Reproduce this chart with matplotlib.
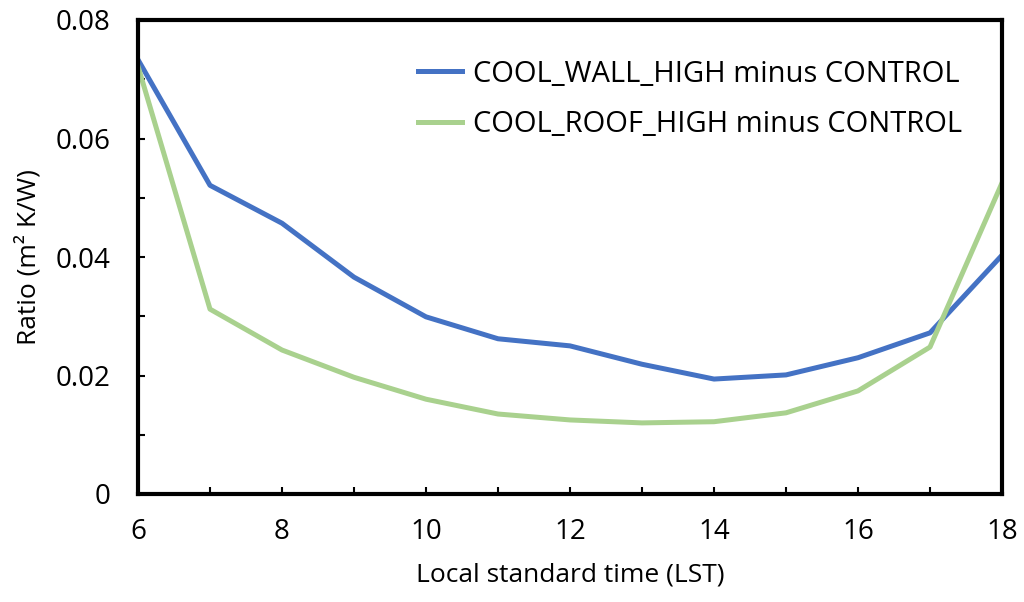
import numpy as np
import matplotlib.pyplot as plt

hours = [6, 7, 8, 9, 10, 11, 12, 13, 14, 15, 16, 17, 18]
wall_minus_control = [0.0733, 0.0521, 0.0457, 0.0366, 0.0299, 0.0262, 0.0250,
                      0.0219, 0.0194, 0.0201, 0.0230, 0.0272, 0.0403]
roof_minus_control = [0.0722, 0.0312, 0.0243, 0.0197, 0.0160, 0.0135, 0.0125,
                      0.0120, 0.0122, 0.0137, 0.0174, 0.0248, 0.0525]
labels = ['COOL_WALL_HIGH minus CONTROL', 'COOL_ROOF_HIGH minus CONTROL']

plt.rcParams['font.family'] = ['Open Sans', 'DejaVu Sans']

fig = plt.figure(figsize=(10.24, 6.02), dpi=100)
ax = fig.add_axes([138 / 1024, 1 - 494 / 602, (1002 - 138) / 1024, (494 - 20) / 602])

ax.plot(hours, wall_minus_control, color='#4472C4', lw=3.6, label=labels[0])
ax.plot(hours, roof_minus_control, color='#A9D18E', lw=3.6, label=labels[1])

ax.set_xlim(6, 18)
ax.set_ylim(0, 0.08)
ax.set_xticks(range(6, 19, 2))
ax.set_xticks(range(6, 19), minor=True)
ax.set_yticks(np.arange(0, 0.081, 0.02))
ax.set_yticklabels(['0', '0.02', '0.04', '0.06', '0.08'])
ax.set_yticks(np.arange(0, 0.081, 0.01), minor=True)
ax.tick_params(which='both', direction='in', width=1.5, length=5, labelsize=20)
ax.tick_params(axis='y', pad=20)
ax.tick_params(axis='x', pad=17)

for s in ax.spines.values():
    s.set_linewidth(3)

ax.set_xlabel('Local standard time (LST)', fontsize=19, labelpad=12)
ax.set_ylabel('Ratio (m² K/W)', fontsize=19, labelpad=10)

ax.legend(loc='upper right', frameon=False, fontsize=21, handlelength=1.5,
          handletextpad=0.38, labelspacing=0.75, bbox_to_anchor=(0.984, 0.972))

fig.savefig('out.png', dpi=100)
